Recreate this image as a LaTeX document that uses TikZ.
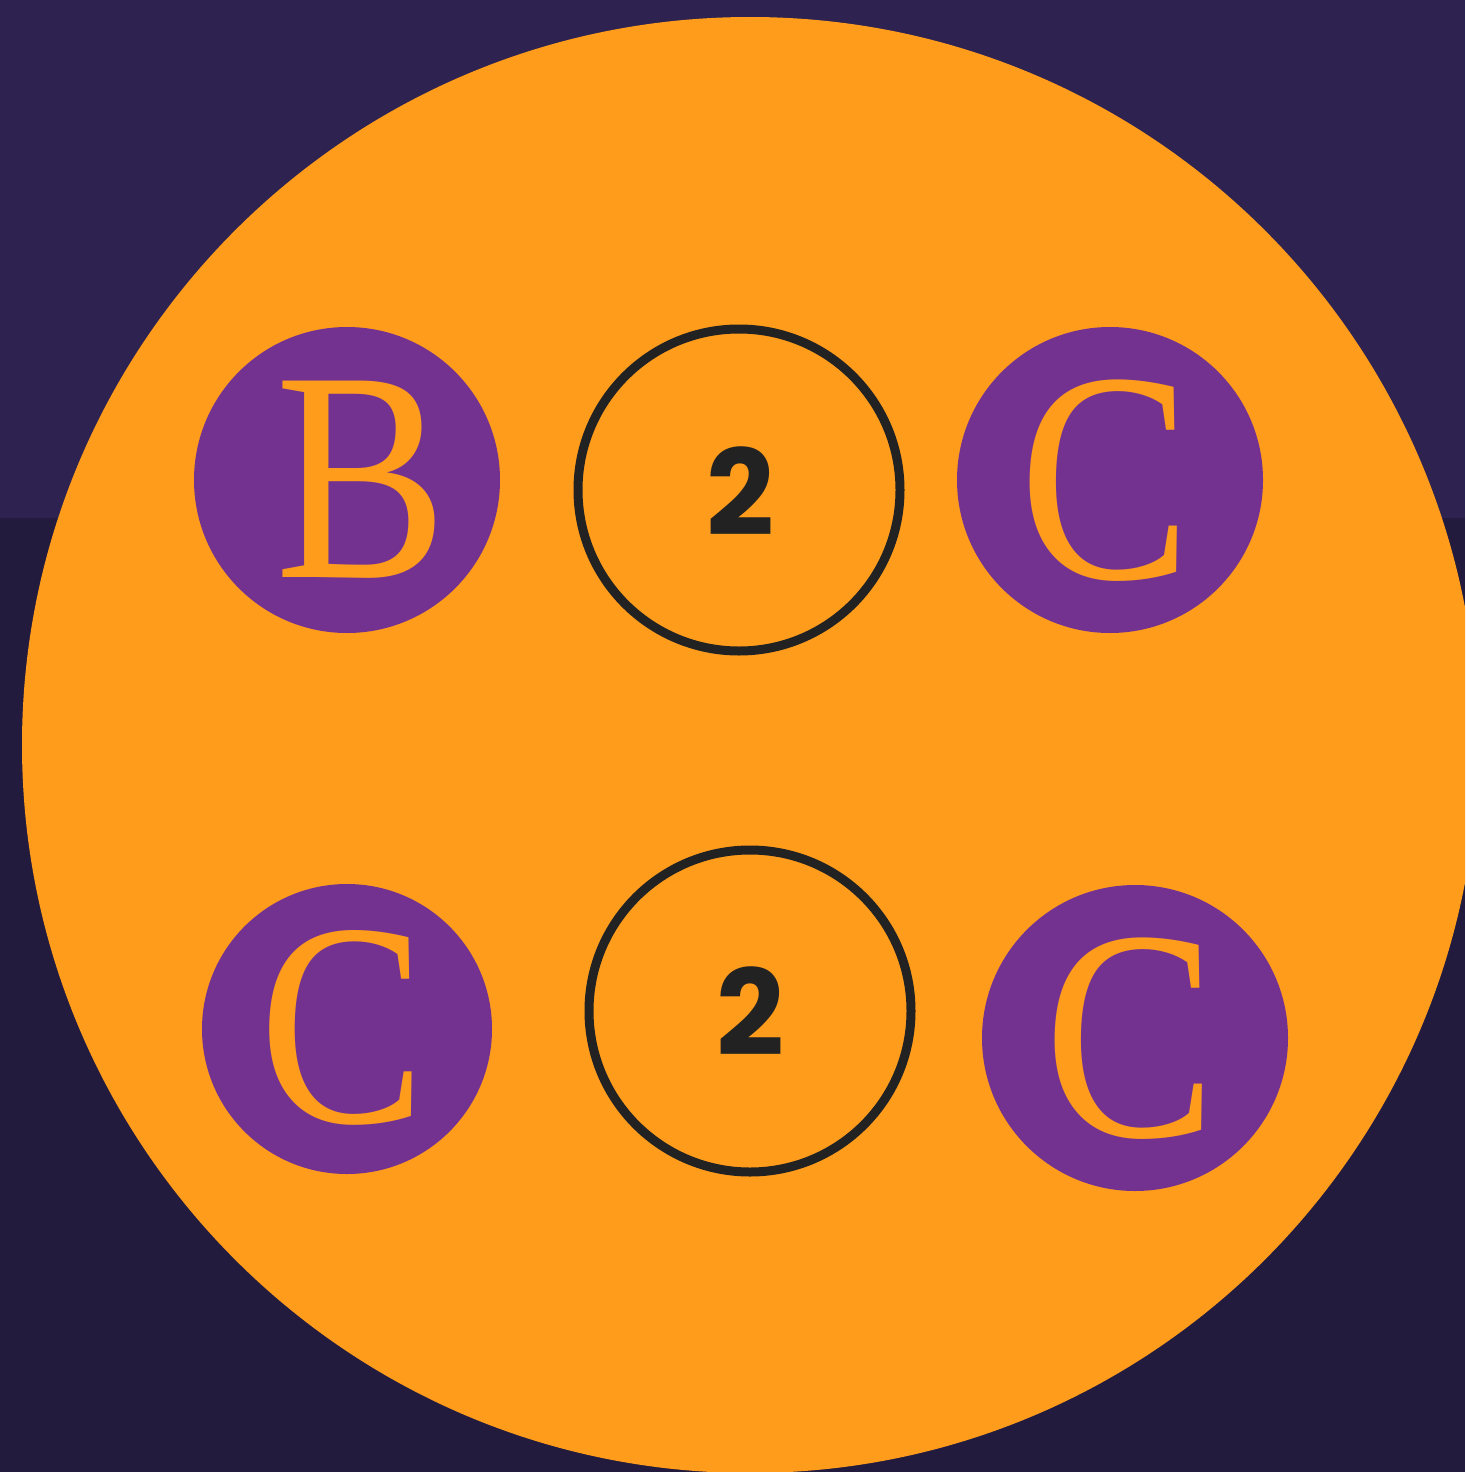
\documentclass[tikz,border=0pt]{standalone}
\usepackage{fontspec}
\setmainfont{Liberation Serif}
\newfontfamily\digitfont{Poppins}
\definecolor{bgtop}{HTML}{2D2250}
\definecolor{bgbot}{HTML}{231B3E}
\definecolor{orng}{HTML}{FF9C1C}
\definecolor{purp}{HTML}{743290}
\definecolor{ink}{HTML}{222222}
\newcommand{\narrowglyph}[1]{\scalebox{0.86}[1]{#1}}
\tikzset{
  purpdisc/.style={circle, fill=purp, inner sep=0pt},
  ring/.style={circle, draw=ink, line width=9pt, inner sep=0pt, minimum size=322pt},
  letter/.style={anchor=base, inner sep=0pt, text=orng, font=\fontsize{300}{300}\selectfont},
  digit/.style={anchor=base, inner sep=0pt, text=ink, font=\digitfont\bfseries\fontsize{119}{119}\selectfont},
}
\begin{document}
\begin{tikzpicture}[x=1pt,y=-1pt]
\useasboundingbox (0,0) rectangle (1465,1472);
\fill[bgtop] (0,0) rectangle (1465,518);
\fill[bgbot] (0,518) rectangle (1465,1472);
\begin{scope}
\clip (0,0) rectangle (1465,1472);
\fill[orng] (750,745) circle (728);
\end{scope}
\node[purpdisc, minimum size=306pt] (discB) at (347,480) {};
\node[purpdisc, minimum size=306pt] (discC1) at (1110,480) {};
\node[purpdisc, minimum size=290pt] (discC2) at (347,1029) {};
\node[purpdisc, minimum size=306pt] (discC3) at (1135,1038) {};
\node[letter] (B) at (362,577) {\narrowglyph{B}};
\node[letter] (C1) at (1106,578) {\narrowglyph{C}};
\node[letter, font=\fontsize{290}{290}\selectfont] (C2) at (343,1122) {\narrowglyph{C}};
\node[letter] (C3) at (1131,1136) {\narrowglyph{C}};
\node[ring] (ring1) at (739,490) {};
\node[ring] (ring2) at (750,1011) {};
\node[digit] (n1) at (740,535) {2};
\node[digit] (n2) at (750,1055) {2};
\end{tikzpicture}
\end{document}
